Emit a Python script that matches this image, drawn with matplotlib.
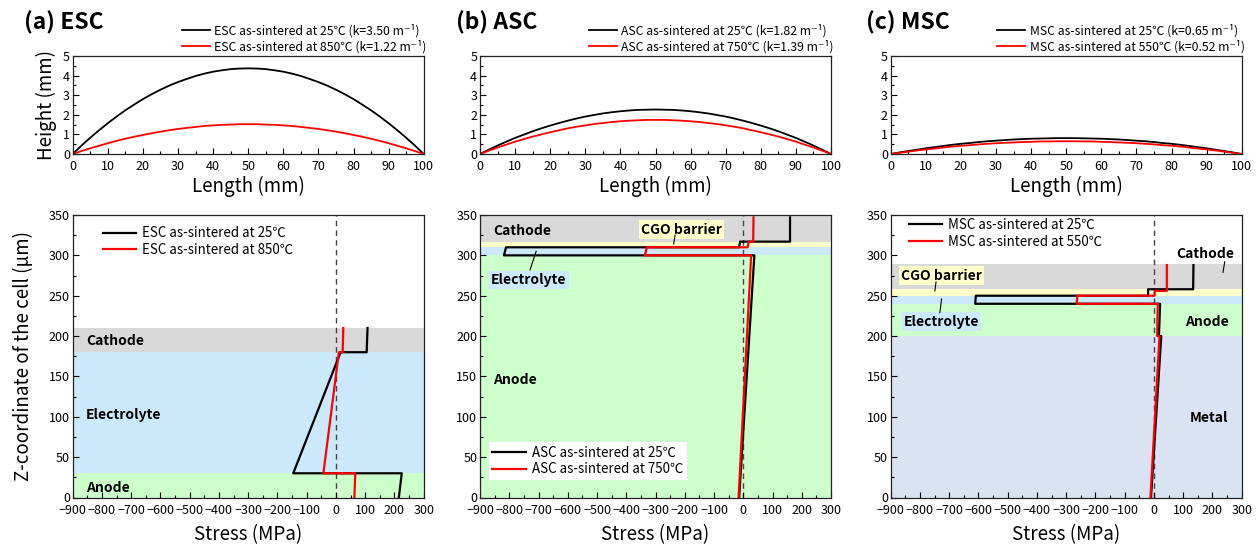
import matplotlib
matplotlib.use("Agg")
import matplotlib.pyplot as plt
from matplotlib.ticker import MultipleLocator

plt.rcParams['font.family'] = ['Noto Sans CJK JP', 'DejaVu Sans']
plt.rcParams['axes.unicode_minus'] = True

# ---- top row: curvature profiles (height vs length) ----
length_mm = [0, 2.5, 5, 7.5, 10, 12.5, 15, 17.5, 20, 22.5, 25, 27.5, 30, 32.5,
             35, 37.5, 40, 42.5, 45, 47.5, 50, 52.5, 55, 57.5, 60, 62.5, 65,
             67.5, 70, 72.5, 75, 77.5, 80, 82.5, 85, 87.5, 90, 92.5, 95, 97.5, 100]
esc_h_25 = [0, 0.43, 0.83, 1.21, 1.57, 1.91, 2.23, 2.52, 2.80, 3.05, 3.28,
            3.49, 3.67, 3.83, 3.98, 4.10, 4.20, 4.27, 4.33, 4.36, 4.37,
            4.36, 4.33, 4.27, 4.20, 4.10, 3.98, 3.83, 3.67, 3.49, 3.28,
            3.05, 2.80, 2.52, 2.23, 1.91, 1.57, 1.21, 0.83, 0.43, 0]
esc_h_850 = [0, 0.15, 0.29, 0.42, 0.55, 0.67, 0.78, 0.88, 0.97, 1.06, 1.14,
             1.21, 1.28, 1.33, 1.38, 1.43, 1.46, 1.49, 1.50, 1.52, 1.52,
             1.52, 1.50, 1.49, 1.46, 1.43, 1.38, 1.33, 1.28, 1.21, 1.14,
             1.06, 0.97, 0.88, 0.78, 0.67, 0.55, 0.42, 0.29, 0.15, 0]
asc_h_25 = [0, 0.22, 0.43, 0.63, 0.82, 0.99, 1.16, 1.31, 1.45, 1.58, 1.70,
            1.81, 1.91, 1.99, 2.07, 2.13, 2.18, 2.22, 2.25, 2.26, 2.27,
            2.26, 2.25, 2.22, 2.18, 2.13, 2.07, 1.99, 1.91, 1.81, 1.70,
            1.58, 1.45, 1.31, 1.16, 0.99, 0.82, 0.63, 0.43, 0.22, 0]
asc_h_750 = [0, 0.17, 0.33, 0.48, 0.63, 0.76, 0.89, 1.00, 1.11, 1.21, 1.31,
             1.39, 1.46, 1.53, 1.58, 1.63, 1.67, 1.70, 1.72, 1.74, 1.74,
             1.74, 1.72, 1.70, 1.67, 1.63, 1.58, 1.53, 1.46, 1.39, 1.31,
             1.21, 1.11, 1.00, 0.89, 0.76, 0.63, 0.48, 0.33, 0.17, 0]
msc_h_25 = [0, 0.08, 0.15, 0.22, 0.29, 0.35, 0.41, 0.47, 0.52, 0.56, 0.61,
            0.65, 0.68, 0.71, 0.74, 0.76, 0.78, 0.79, 0.80, 0.81, 0.81,
            0.81, 0.80, 0.79, 0.78, 0.76, 0.74, 0.71, 0.68, 0.65, 0.61,
            0.56, 0.52, 0.47, 0.41, 0.35, 0.29, 0.22, 0.15, 0.08, 0]
msc_h_550 = [0, 0.06, 0.12, 0.18, 0.23, 0.28, 0.33, 0.38, 0.42, 0.45, 0.49,
             0.52, 0.55, 0.57, 0.59, 0.61, 0.62, 0.64, 0.64, 0.65, 0.65,
             0.65, 0.64, 0.64, 0.62, 0.61, 0.59, 0.57, 0.55, 0.52, 0.49,
             0.45, 0.42, 0.38, 0.33, 0.28, 0.23, 0.18, 0.12, 0.06, 0]

# ---- bottom row: stress through the cell thickness ----
esc_z_25 = [0, 30, 30, 180, 180, 210]
esc_s_25 = [215, 225, -146, 16, 105, 108]
esc_z_850 = [0, 30, 30, 180, 180, 210]
esc_s_850 = [63, 66, -43, 10, 23, 25]

asc_z_25 = [0, 300, 300, 310, 310, 317, 317, 347]
asc_s_25 = [-14, 38, -818, -811, -14, -11, 160, 160]
asc_z_750 = [0, 300, 300, 310, 310, 317, 317, 347]
asc_s_750 = [-16, 27, -336, -330, 15, 19, 34, 35]

msc_z_25 = [0, 200, 200, 240, 240, 250, 250, 258, 258, 288]
msc_s_25 = [-10, 25, 17, 21, -611, -609, -20, -20, 134, 135]
msc_z_550 = [0, 200, 200, 240, 240, 250, 250, 256, 256, 288]
msc_s_550 = [-12, 19, 11, 13, -264, -262, 2, 3, 44, 44]

# layer names and z-ranges (um)
esc_layers = [("Anode", 0, 30), ("Electrolyte", 30, 180), ("Cathode", 180, 210)]
asc_layers = [("Anode", 0, 300), ("Electrolyte", 300, 310),
              ("CGO barrier", 310, 317), ("Cathode", 317, 350)]
msc_layers = [("Metal", 0, 200), ("Anode", 200, 240), ("Electrolyte", 240, 250),
              ("CGO barrier", 250, 258), ("Cathode", 258, 289)]

layer_colors = {"Anode": "#ccffcc", "Electrolyte": "#cce8fb", "Cathode": "#d9d9d9",
                "CGO barrier": "#ffffcc", "Metal": "#dae3f3"}

W, H = 1259, 549
fig = plt.figure(figsize=(W / 100, H / 100), dpi=100)

col_left = [72.7, 480, 890.7]
col_w = 351


def rect(left, top, bottom):
    return [left / W, 1 - bottom / H, col_w / W, (bottom - top) / H]


def style_axes(ax):
    for sp in ax.spines.values():
        sp.set_linewidth(0.9)
        sp.set_color('#222222')
    ax.tick_params(which='both', direction='in', labelsize=9, width=0.8,
                   top=False, right=False, pad=2)
    ax.tick_params(axis='x', which='both', pad=4.5)
    ax.tick_params(which='major', length=4)
    ax.tick_params(which='minor', length=2)


top_sets = [
    ("ESC", esc_h_25, esc_h_850, "25℃ (k=3.50 m⁻¹)", "850℃ (k=1.22 m⁻¹)"),
    ("ASC", asc_h_25, asc_h_750, "25℃ (k=1.82 m⁻¹)", "750℃ (k=1.39 m⁻¹)"),
    ("MSC", msc_h_25, msc_h_550, "25℃ (k=0.65 m⁻¹)", "550℃ (k=0.52 m⁻¹)"),
]
for i, (name, h_cold, h_hot, lab_cold, lab_hot) in enumerate(top_sets):
    ax = fig.add_axes(rect(col_left[i], 56, 154))
    ax.plot(length_mm, h_cold, color='black', lw=1.3,
            label=f"{name} as-sintered at {lab_cold}")
    ax.plot(length_mm, h_hot, color='red', lw=1.3,
            label=f"{name} as-sintered at {lab_hot}")
    ax.set_xlim(0, 100)
    ax.set_ylim(0, 5)
    ax.xaxis.set_major_locator(MultipleLocator(10))
    ax.xaxis.set_minor_locator(MultipleLocator(5))
    ax.yaxis.set_major_locator(MultipleLocator(1))
    ax.yaxis.set_minor_locator(MultipleLocator(0.5))
    style_axes(ax)
    ax.set_xlabel("Length (mm)", fontsize=13.5, labelpad=2)
    if i == 0:
        ax.set_ylabel("Height (mm)", fontsize=13.5, labelpad=4)
    ax.legend(loc='lower right', bbox_to_anchor=(1.008, 1.03), frameon=False,
              fontsize=8.8, borderpad=0, borderaxespad=0, handlelength=2.3,
              handletextpad=0.35, labelspacing=0.18)

titles = ["(a) ESC", "(b) ASC", "(c) MSC"]
title_x = [24, 456, 866]
for t, x in zip(titles, title_x):
    fig.text(x / W, 1 - 23 / H, t, fontsize=16.5, fontweight='bold', va='center')


def stress_panel(ax, layers, z_cold, s_cold, z_hot, s_hot, labels):
    for name, z0, z1 in layers:
        ax.axhspan(z0, z1, color=layer_colors[name], lw=0, zorder=0)
    ax.plot([0, 0], [0, 350], color='#444444', lw=1.0, ls=(0, (4, 3)), zorder=1)
    ax.plot(s_cold, z_cold, color='black', lw=1.6, zorder=3, label=labels[0])
    ax.plot(s_hot, z_hot, color='red', lw=1.6, zorder=4, label=labels[1])
    ax.set_xlim(-900, 300)
    ax.set_ylim(0, 350)
    ax.xaxis.set_major_locator(MultipleLocator(100))
    ax.xaxis.set_minor_locator(MultipleLocator(50))
    ax.yaxis.set_major_locator(MultipleLocator(50))
    ax.yaxis.set_minor_locator(MultipleLocator(25))
    style_axes(ax)
    ax.set_xlabel("Stress (MPa)", fontsize=13.5, labelpad=5)


lab_kw = dict(fontsize=10, fontweight='bold', va='center', ha='left', zorder=5)
leg_kw = dict(fontsize=9.6, borderaxespad=0, handlelength=2.5,
              handletextpad=0.45, labelspacing=0.2)

# (a) ESC
ax = fig.add_axes(rect(col_left[0], 215, 497.5))
stress_panel(ax, esc_layers, esc_z_25, esc_s_25, esc_z_850, esc_s_850,
             ["ESC as-sintered at 25℃", "ESC as-sintered at 850℃"])
ax.set_ylabel("Z-coordinate of the cell (μm)", fontsize=13.5, labelpad=11)
ax.text(-854, 194, "Cathode", **lab_kw)
ax.text(-854, 102, "Electrolyte", **lab_kw)
ax.text(-854, 12, "Anode", **lab_kw)
ax.legend(loc='upper left', bbox_to_anchor=(0.086, 0.96), frameon=False,
          borderpad=0, **leg_kw)

# (b) ASC
ax = fig.add_axes(rect(col_left[1], 215, 497.5))
stress_panel(ax, asc_layers, asc_z_25, asc_s_25, asc_z_750, asc_s_750,
             ["ASC as-sintered at 25℃", "ASC as-sintered at 750℃"])
ax.text(-855, 330, "Cathode", **lab_kw)
ax.text(-350, 332, "CGO barrier", bbox=dict(boxstyle='square,pad=0.15',
        fc=layer_colors["CGO barrier"], ec='none'), **lab_kw)
ax.plot([-233, -238], [325, 314], color='black', lw=0.8, zorder=5)
ax.text(-862, 269, "Electrolyte", bbox=dict(boxstyle='square,pad=0.15',
        fc=layer_colors["Electrolyte"], ec='none'), **lab_kw)
ax.plot([-708, -729], [305, 282], color='black', lw=0.8, zorder=5)
ax.text(-855, 146, "Anode", **lab_kw)
leg = ax.legend(loc='lower left', bbox_to_anchor=(0.026, 0.063), frameon=True,
                borderpad=0.25, fancybox=False, **leg_kw)
leg.get_frame().set_facecolor('white')
leg.get_frame().set_edgecolor('none')
leg.get_frame().set_alpha(1)

# (c) MSC
ax = fig.add_axes(rect(col_left[2], 215, 497.5))
stress_panel(ax, msc_layers, msc_z_25, msc_s_25, msc_z_550, msc_s_550,
             ["MSC as-sintered at 25℃", "MSC as-sintered at 550℃"])
ax.text(77, 302, "Cathode", **lab_kw)
ax.plot([242, 236], [292, 279], color='black', lw=0.8, zorder=5)
ax.text(-864, 275, "CGO barrier", bbox=dict(boxstyle='square,pad=0.15',
        fc=layer_colors["CGO barrier"], ec='none'), **lab_kw)
ax.plot([-745, -749], [267, 256], color='black', lw=0.8, zorder=5)
ax.text(-855, 218, "Electrolyte", bbox=dict(boxstyle='square,pad=0.15',
        fc=layer_colors["Electrolyte"], ec='none'), **lab_kw)
ax.plot([-726, -732], [246, 229], color='black', lw=0.8, zorder=5)
ax.text(105, 218, "Anode", **lab_kw)
ax.text(123, 99, "Metal", **lab_kw)
ax.legend(loc='upper left', bbox_to_anchor=(0.052, 0.99), frameon=False,
          borderpad=0, **leg_kw)

fig.savefig("out.png", dpi=100)
